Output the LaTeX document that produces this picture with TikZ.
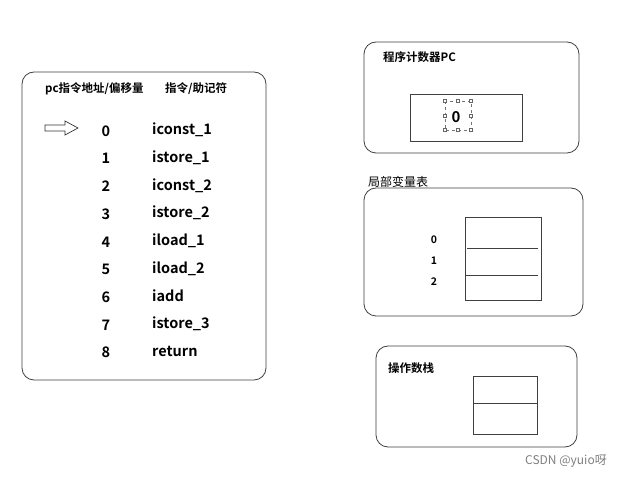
\documentclass[tikz,border=0pt]{standalone}
\usepackage{fontspec}
\setmainfont{Noto Sans CJK SC}[BoldFont={* Bold}]
\newfontfamily\cjk{Noto Sans CJK SC}[BoldFont={* Bold}]
\begin{document}
\begin{tikzpicture}[x=1pt,y=-1pt,
  panel/.style={draw=black!75, line width=0.8pt, rounded corners=12pt},
  cell/.style={draw=black!75, line width=0.8pt},
  hdr/.style={font=\fontsize{11.5}{13}\selectfont\bfseries, anchor=west, inner sep=0pt},
  num/.style={font=\fontsize{14.5}{16}\selectfont\bfseries, inner sep=0pt},
  ins/.style={font=\fontsize{14.5}{16}\selectfont\bfseries, anchor=west, inner sep=0pt},
  small/.style={font=\fontsize{10.5}{12}\selectfont\bfseries, inner sep=0pt},
  handle/.style={draw=black!60, fill=white, line width=0.4pt, minimum size=3pt, inner sep=0pt}]
\useasboundingbox[fill=white] (0,0) rectangle (622,478);

% left panel
\draw[panel] (22,72) rectangle (266,380);
\node[hdr] (h1) at (45,89) {pc指令地址/偏移量};
\node[hdr] (h2) at (165,89) {指令/助记符};
\draw[line width=0.7pt, draw=black!80] (45,125) -- (65,125) -- (65,121) -- (78,128) -- (65,135) -- (65,131) -- (45,131) -- cycle;
\foreach \n/\t [count=\i from 0] in {0/iconst\_1,1/istore\_1,2/iconst\_2,3/istore\_2,4/iload\_1,5/iload\_2,6/iadd,7/istore\_3,8/return} {
  \node[num] (n\i) at (106,131+27.7*\i) {\n};
  \node[ins] (i\i) at (152,130+27.7*\i) {\t};
}

% program counter
\draw[panel] (364,42) rectangle (579,153);
\node[hdr] (pct) at (383,57) {程序计数器PC};
\draw[cell] (410,94) rectangle (522,141);
\node[num, font=\fontsize{15}{16}\selectfont\bfseries] (pc0) at (456,117) {0};
\draw[dashed, draw=black!55, line width=0.4pt] (445,101) rectangle (471,130);
\foreach \px in {445,458,471} {
  \node[handle] at (\px,101) {};
  \node[handle] at (\px,130) {};
}
\node[handle] at (445,115.5) {};
\node[handle] at (471,115.5) {};

% local variable table
\node[hdr, font=\fontsize{12}{13}\selectfont] (lvt) at (368,182) {局部变量表};
\draw[panel] (364,188) rectangle (583,316);
\draw[cell] (465,217) rectangle (541,300);
\draw[cell] (467,248) -- (538,248);
\draw[cell] (465,275) -- (538,275);
\node[small] (l0) at (434,240) {0};
\node[small] (l1) at (434,261) {1};
\node[small] (l2) at (434,282) {2};

% operand stack
\draw[panel] (376,346) rectangle (577,447);
\node[hdr] (ost) at (388,368) {操作数栈};
\draw[cell] (473,376) rectangle (537,434);
\draw[cell] (473,403) -- (537,403);

\node[font=\fontsize{12}{14}\selectfont, text=black!50, anchor=east, inner sep=0pt] (wm) at (607,461) {CSDN @yuio呀};
\end{tikzpicture}
\end{document}
